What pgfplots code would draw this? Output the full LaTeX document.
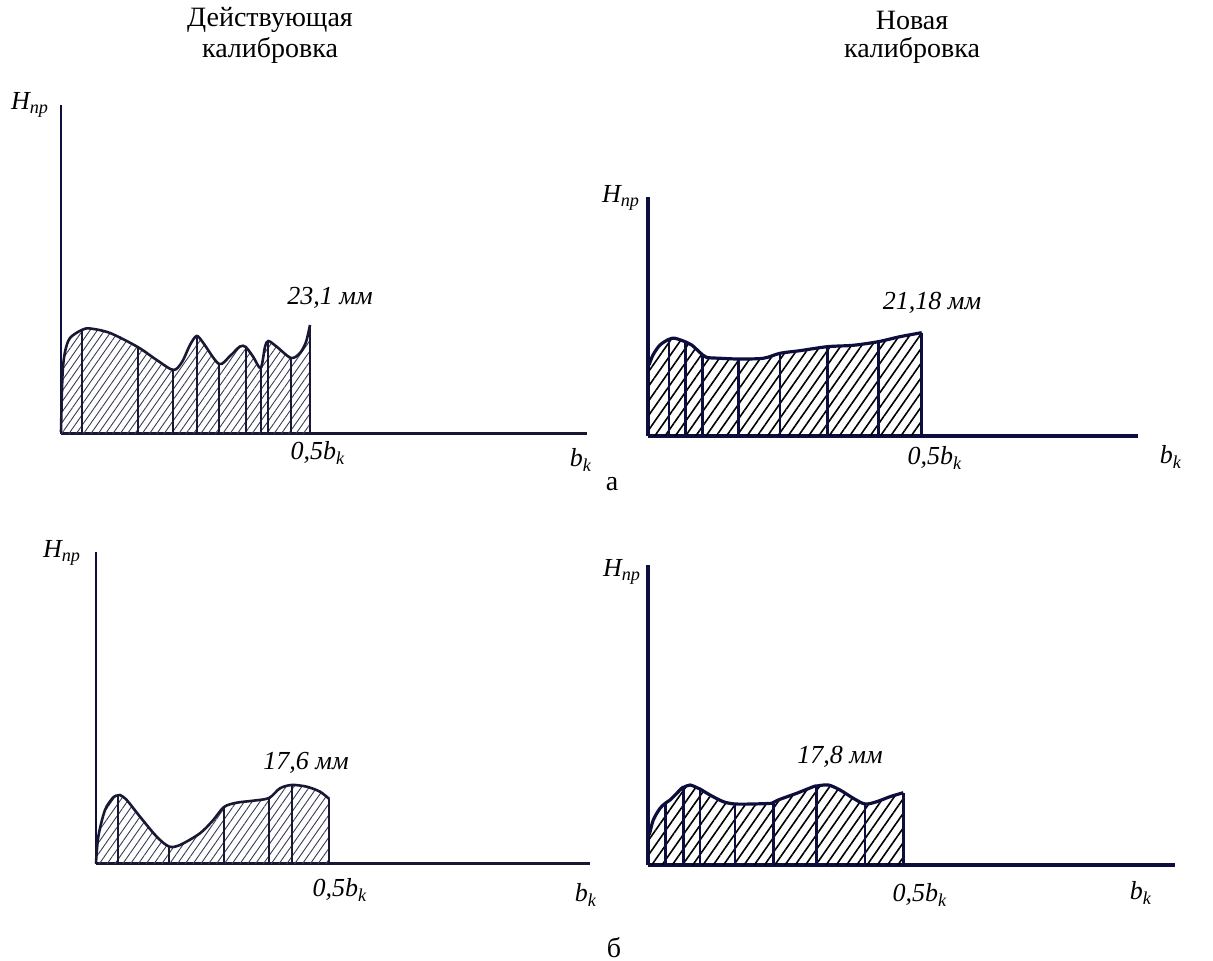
\documentclass[border=0pt]{standalone}
\usepackage{pgfplots}
\pgfplotsset{compat=1.18}
\usetikzlibrary{patterns.meta}
\usepackage{fontspec}
\setmainfont{Liberation Serif}
\definecolor{navy}{RGB}{14,14,62}
\definecolor{ink}{RGB}{24,24,52}
\newcommand\lab{\fontsize{13pt}{15pt}\selectfont\itshape}
\newcommand\ttl{\fontsize{14pt}{17pt}\selectfont}
\newcommand\Hnp{{\lab H\textsubscript{пр}}}
\newcommand\bk{{\lab b\textsubscript{k}}}
\newcommand\hbk{{\lab 0,5b\textsubscript{k}}}
\begin{document}
\begin{tikzpicture}
\useasboundingbox (0,0) rectangle (606.5pt,480.5pt);
\pgfplotsset{panel/.style={x=0.5pt,y=0.5pt,anchor=south west,xmin=0,ymin=0,
  axis lines=left,ticks=none,clip=false,enlargelimits=false}}

% ---------- panel a, left ----------
\begin{axis}[panel, at={(30.5pt,263.5pt)}, xmax=526, ymax=329,
  x axis line style={-,line width=1.5pt,color=ink},
  y axis line style={-,line width=1pt,color=navy}]
\addplot[draw=none, smooth, pattern={Lines[angle=55,distance=3pt,line width=0.45pt]}, pattern color=ink!85]
 coordinates {(0,2) (1.5,59) (4,82) (9,96) (20.7,104) (29,105.5) (49,101) (76.7,87) (95.7,74) (112.3,64) (121,72) (129,89) (135.7,98) (142.3,91) (158,70) (169,78) (179,87.5) (184.7,87) (192.3,77) (199.7,66) (204,87) (207.3,93) (215.7,87.3) (230,76) (239,81) (245,92) (249,109)} \closedcycle;
\addplot[smooth, line width=1.3pt, color=ink]
 coordinates {(0,2) (1.5,59) (4,82) (9,96) (20.7,104) (29,105.5) (49,101) (76.7,87) (95.7,74) (112.3,64) (121,72) (129,89) (135.7,98) (142.3,91) (158,70) (169,78) (179,87.5) (184.7,87) (192.3,77) (199.7,66) (204,87) (207.3,93) (215.7,87.3) (230,76) (239,81) (245,92) (249,109)};
\addplot[ycomb, no marks, line width=1pt, color=ink]
 coordinates {(20.7,104) (76.7,87) (112.3,64) (135.7,98) (158,70) (184.7,87) (199.7,66) (207.3,93) (230,76) (249,109)};
\end{axis}

% ---------- panel a, right ----------
\begin{axis}[panel, at={(324pt,262.5pt)}, xmax=490, ymax=239,
  x axis line style={-,line width=2pt,color=navy},
  y axis line style={-,line width=1.8pt,color=navy}]
\addplot[draw=none, smooth, pattern={Lines[angle=55,distance=4.2pt,line width=0.8pt]}, pattern color=black]
 coordinates {(1,71) (5,81) (12,91) (21,96.7) (27,97.7) (37.7,94) (43.7,91) (54.7,81) (58.7,78.5) (72,77.7) (90.3,77) (115.3,77.7) (132,82.7) (152,85.3) (179.3,89.3) (205.3,90.7) (230.3,94.3) (252,99.3) (273.7,103.3)} \closedcycle;
\addplot[smooth, line width=1.6pt, color=navy]
 coordinates {(1,71) (5,81) (12,91) (21,96.7) (27,97.7) (37.7,94) (43.7,91) (54.7,81) (58.7,78.5) (72,77.7) (90.3,77) (115.3,77.7) (132,82.7) (152,85.3) (179.3,89.3) (205.3,90.7) (230.3,94.3) (252,99.3) (273.7,103.3)};
\addplot[ycomb, no marks, line width=1.3pt, color=navy]
 coordinates {(21,96.7) (37.7,94) (54.7,81) (90.3,77) (132,82.7) (179.3,89.3) (230.3,94.3) (273.7,103.3)};
\end{axis}

% ---------- panel b, left ----------
\begin{axis}[panel, at={(48pt,48.5pt)}, xmax=494, ymax=312,
  x axis line style={-,line width=1.5pt,color=ink},
  y axis line style={-,line width=1pt,color=navy}]
\addplot[draw=none, smooth, pattern={Lines[angle=55,distance=3.2pt,line width=0.45pt]}, pattern color=ink!85]
 coordinates {(0,1) (2.3,27.3) (9,54) (17.3,66.7) (21.7,68.5) (24,69) (30.7,64) (44,47.3) (60.7,27.3) (73,17.5) (84,19) (104,30.7) (117.3,44) (128,57) (140.7,61.3) (157.3,63.3) (173,66) (184,75.7) (195.7,79) (210.7,77.3) (224,72.3) (233.3,65)} \closedcycle;
\addplot[smooth, line width=1.3pt, color=ink]
 coordinates {(0,1) (2.3,27.3) (9,54) (17.3,66.7) (21.7,68.5) (24,69) (30.7,64) (44,47.3) (60.7,27.3) (73,17.5) (84,19) (104,30.7) (117.3,44) (128,57) (140.7,61.3) (157.3,63.3) (173,66) (184,75.7) (195.7,79) (210.7,77.3) (224,72.3) (233.3,65)};
\addplot[ycomb, no marks, line width=0.9pt, color=ink]
 coordinates {(21.7,68.5) (73,17.5) (128,57) (173,66) (195.7,79) (233.3,65)};
\end{axis}

% ---------- panel b, right ----------
\begin{axis}[panel, at={(324pt,48pt)}, xmax=527, ymax=300,
  x axis line style={-,line width=2pt,color=navy},
  y axis line style={-,line width=1.8pt,color=navy}]
\addplot[draw=none, smooth, pattern={Lines[angle=55,distance=4.2pt,line width=0.8pt]}, pattern color=black]
 coordinates {(1.3,30) (5.3,45) (12,56.7) (17.7,62) (22,65) (33.7,76.7) (35.3,77.5) (42,80) (50.3,76.7) (52,76) (62,70) (75.3,63.3) (87,61) (105.3,61) (123.7,61.7) (125.3,62.5) (132,65.7) (148.7,71.7) (165.3,78.3) (168.7,79) (180.3,80) (192,75) (205.3,66.7) (217,61) (228.7,63.3) (242,68.3) (255.3,72.3)} \closedcycle;
\addplot[smooth, line width=1.6pt, color=navy]
 coordinates {(1.3,30) (5.3,45) (12,56.7) (17.7,62) (22,65) (33.7,76.7) (35.3,77.5) (42,80) (50.3,76.7) (52,76) (62,70) (75.3,63.3) (87,61) (105.3,61) (123.7,61.7) (125.3,62.5) (132,65.7) (148.7,71.7) (165.3,78.3) (168.7,79) (180.3,80) (192,75) (205.3,66.7) (217,61) (228.7,63.3) (242,68.3) (255.3,72.3)};
\addplot[ycomb, no marks, line width=1.3pt, color=navy]
 coordinates {(17.7,62) (35.3,77.5) (52,76) (87,61) (125.3,62.5) (168.7,79) (217,61) (255.3,72.3)};
\end{axis}

% ---------- texts (pixel positions of the reference, 1px = 0.5pt) ----------
\newcommand\txt[3]{\node[inner sep=0pt] at ({#1*0.5pt},{480.5pt-#2*0.5pt}) {#3};}
\txt{270}{20}{\ttl Действующая}
\txt{270}{50}{\ttl калибровка}
\txt{912}{20}{\ttl Новая}
\txt{912}{50}{\ttl калибровка}
\txt{612}{484}{\ttl а}
\txt{614}{948}{\ttl б}
% panel a left
\txt{30}{105}{\Hnp}
\txt{330}{298}{\lab 23,1 мм}
\txt{318}{453}{\hbk}
\txt{581}{460}{\bk}
% panel a right
\txt{621}{198}{\Hnp}
\txt{932}{303}{\lab 21,18 мм}
\txt{935}{458}{\hbk}
\txt{1171}{457}{\bk}
% panel b left
\txt{62}{553}{\Hnp}
\txt{306}{763}{\lab 17,6 мм}
\txt{340}{890}{\hbk}
\txt{586}{895}{\bk}
% panel b right
\txt{622}{572}{\Hnp}
\txt{840}{757}{\lab 17,8 мм}
\txt{920}{895}{\hbk}
\txt{1141}{893}{\bk}
\end{tikzpicture}
\end{document}
